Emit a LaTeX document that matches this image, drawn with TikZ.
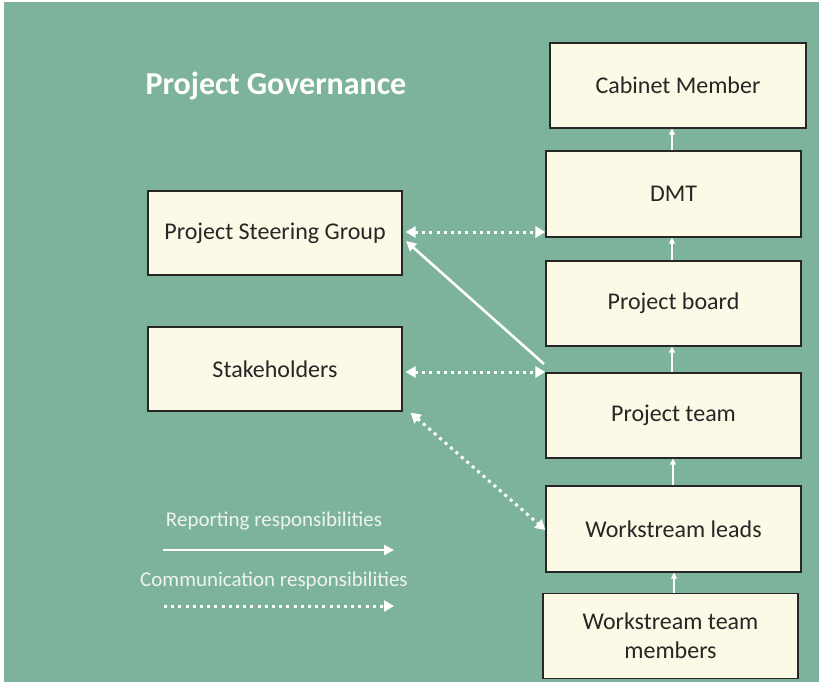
\documentclass[tikz,border=0pt]{standalone}
\usepackage{fontspec}
\setmainfont{Carlito}
\usetikzlibrary{arrows.meta}
\definecolor{bg}{HTML}{7DB39A}
\definecolor{boxfill}{HTML}{FCF9E6}
\definecolor{txt}{HTML}{262626}
\definecolor{legtxt}{HTML}{EEF4EE}
\tikzset{
  box/.style={draw=black!85, line width=1.2pt, fill=boxfill, text=txt, font=\fontsize{24}{29}\selectfont, align=center, inner sep=0pt},
  up/.style={draw=white, line width=1.3pt, -{Triangle[width=6pt,length=6pt]}},
  report/.style={draw=white, line width=2.6pt, -{Triangle[width=10pt,length=10pt]}},
  comm/.style={draw=white, line width=3pt, dash pattern=on 3pt off 4.2pt, {Triangle[width=11pt,length=10pt]}-{Triangle[width=11pt,length=10pt]}},
  commone/.style={draw=white, line width=3pt, dash pattern=on 3pt off 4.2pt, -{Triangle[width=11pt,length=10pt]}},
  legend/.style={text=legtxt, font=\fontsize{21}{25}\selectfont}
}
\begin{document}
\begin{tikzpicture}[x=1pt,y=-1pt]
\useasboundingbox (0,0) rectangle (819,682);
\fill[white] (0,0) rectangle (819,682);
\fill[bg] (4,2) rectangle (819,682);
\node[text=white, font=\bfseries\fontsize{32}{36}\selectfont] (title) at (276,86) {Project Governance};
% right column
\node[box, minimum width=256pt, minimum height=85pt] (cab) at (678,85.5) {Cabinet Member};
\node[box, minimum width=255pt, minimum height=86pt] (dmt) at (673.5,194) {DMT};
\node[box, minimum width=255pt, minimum height=85pt] (board) at (673.5,303.5) {Project board};
\node[box, minimum width=255pt, minimum height=85pt] (team) at (673.5,415.5) {Project team};
\node[box, minimum width=255pt, minimum height=86pt] (leads) at (673.5,529) {Workstream leads};
\node[box, minimum width=255pt, minimum height=85pt] (members) at (670.5,636) {Workstream team\\members};
% left column
\node[box, minimum width=254pt, minimum height=84pt] (psg) at (275,233) {Project Steering Group};
\node[box, minimum width=254pt, minimum height=84pt] (stake) at (275,369) {Stakeholders};
% vertical arrows
\draw[up] (members.north -| 674,0) -- (leads.south -| 674,0);
\draw[up] (leads.north -| 673,0) -- (team.south -| 673,0);
\draw[up] (team.north -| 672,0) -- (board.south -| 672,0);
\draw[up] (board.north -| 672,0) -- (dmt.south -| 672,0);
\draw[up] (dmt.north -| 672,0) -- (cab.south -| 672,0);
% reporting diagonal
\coordinate (rs) at (544,364);
\coordinate (re) at (406,241);
\draw[report] (rs) -- (re);
% communication
\draw[comm] ([xshift=3pt]psg.east |- 0,232) -- (dmt.west |- 0,232);
\draw[comm] ([xshift=3pt]stake.east |- 0,372) -- (team.west |- 0,372);
\draw[comm] ([shift={(8pt,-1pt)}]stake.south east) -- ([yshift=-1pt]leads.west);
% legend
\node[legend] (l1) at (274,521) {Reporting responsibilities};
\node[legend] (l2) at (274,581) {Communication responsibilities};
\coordinate (a1) at (163,550);
\coordinate (a2) at (394,550);
\draw[report] (a1) -- (a2);
\coordinate (b1) at (164,606);
\coordinate (b2) at (394,606);
\draw[commone] (b1) -- (b2);
\end{tikzpicture}
\end{document}
